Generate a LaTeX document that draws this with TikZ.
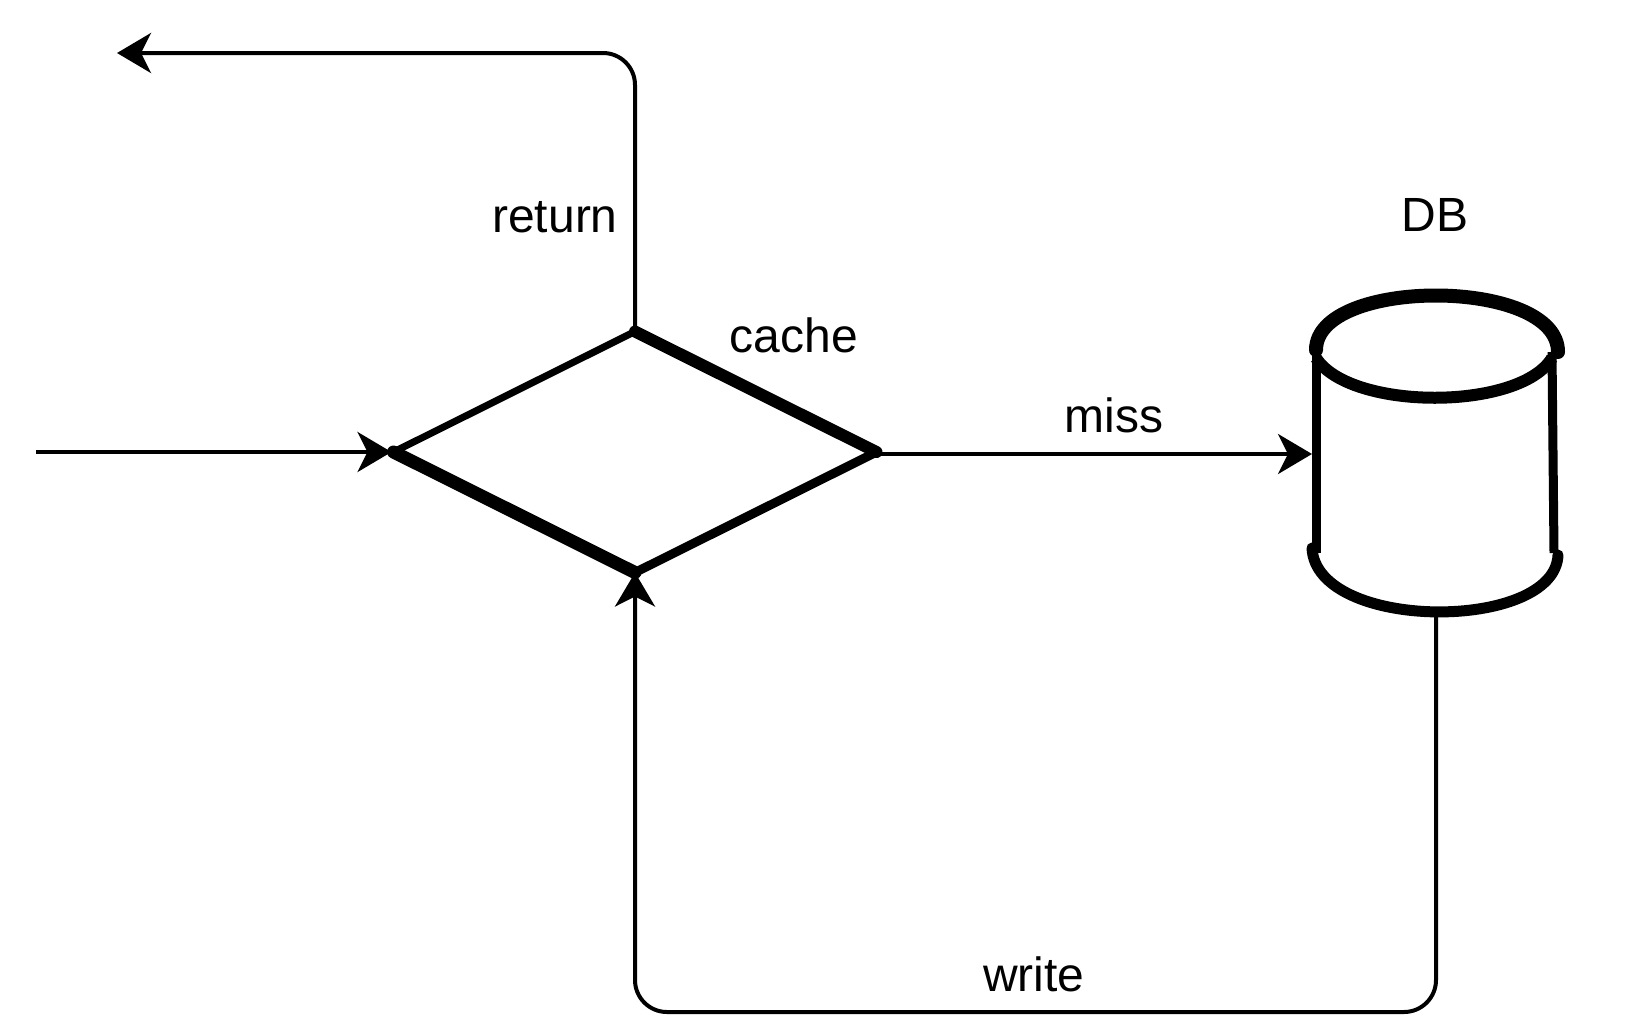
\documentclass[tikz,border=0pt]{standalone}
\usepackage{fontspec}
\setmainfont{Liberation Sans}
\usetikzlibrary{arrows.meta,positioning,shapes.geometric}

\tikzset{
    flowline/.style={line width=2pt,-{Stealth[length=17pt,width=20pt,inset=5pt]}},
    labeltext/.style={font=\fontsize{24}{28}\selectfont,inner sep=0pt},
    holder/.style={inner sep=0pt,outer sep=0pt}
}

\begin{document}
\begin{tikzpicture}[x=0.5pt,y=-0.5pt]
    \useasboundingbox (0,0) rectangle (1638,1034);

    % Cache
    \node[holder,diamond,aspect=2,minimum width=241.5pt,minimum height=120.5pt] (cache) at (635,452) {};
    \foreach \from/\to/\wd in {west/north/3.5, north/east/6, east/south/4.5, south/west/6.5} {
        \draw[line width=\wd pt,line cap=round] (cache.\from) -- (cache.\to);
    }
    \node[labeltext] (cachetext) at (794,335) {cache};

    % DB
    \node[holder,minimum width=120pt,minimum height=160pt] (db) at (1436,453) {};
    \draw[line width=7pt,line cap=round] (1316,350) .. controls (1316,277) and (1558,277) .. (1558,352);
    \draw[line width=6pt] (1316,358) .. controls (1350,411) and (1520,411) .. (1552,358);
    \draw[line width=4.5pt] (1316,350) -- (1316,553);
    \draw[line width=4.5pt] (1552,352) -- (1554,553);
    \draw[line width=5.5pt,line cap=round] (1312,548) .. controls (1316,632) and (1555,632) .. (1558,555);
    \node[labeltext] (dbtext) at (1435,215) {DB};

    % Arrows
    \coordinate (input) at (36,452);
    \coordinate (output) at (117,53);
    \coordinate (writeline) at (1000,1012);
    \draw[flowline,shorten >=1pt] (input) -- (cache.west);
    \draw[flowline,rounded corners=16pt] (cache.north) |- (output);
    \draw[flowline,shorten >=2pt] ([yshift=-1pt]cache.east) -- ([yshift=-1pt]cache.east -| db.west);
    \draw[flowline,rounded corners=16pt] (db.south) |- (writeline) -| (cache.south);

    % Labels
    \node[labeltext] (returntext) at (555,217) {return};
    \node[labeltext] (misstext) at (1114,415) {miss};
    \node[labeltext] (writetext) at (1034,974) {write};
\end{tikzpicture}
\end{document}
